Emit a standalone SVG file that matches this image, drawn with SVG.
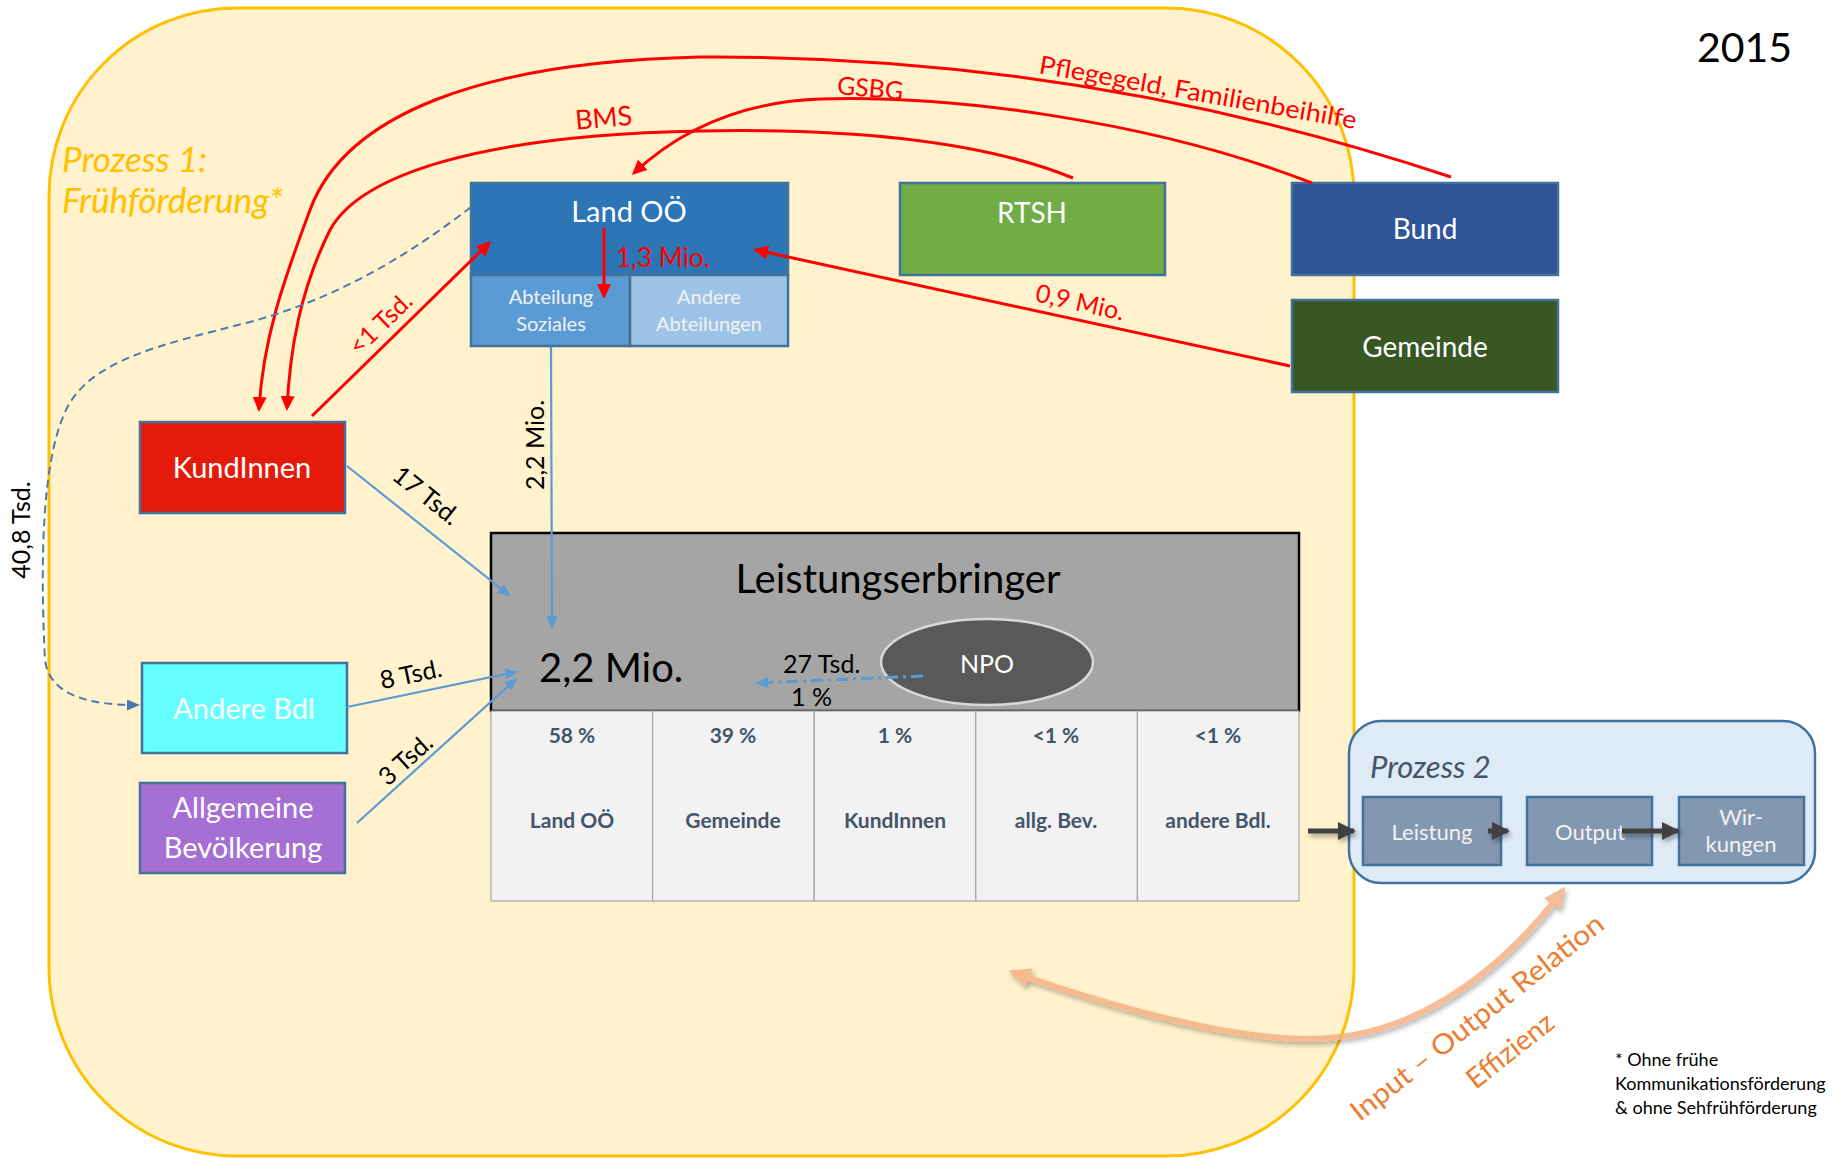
<svg xmlns="http://www.w3.org/2000/svg" width="1835" height="1159" viewBox="0 0 1835 1159">
<style>
text{font-family:Lato,"Liberation Sans",sans-serif}
.w{fill:#FFFFFF}
.red{fill:#FF0000}
.blk{fill:#000000}
.rl{fill:none;stroke:#FF0000;stroke-width:3}
.bl{fill:none;stroke:#5B9BD5;stroke-width:2.2}
.box{stroke:#41719C;stroke-width:2.5}
.tb{fill:#F2F2F2;stroke:#A6A6A6;stroke-width:1.2}
.pc{fill:#44546A;font-weight:bold;font-size:21px;text-anchor:middle}
.sb{fill:#8497B0;stroke:#41719C;stroke-width:2.5}
.da{fill:none;stroke:#404040;stroke-width:5}
</style>
<defs>
<marker id="mr" viewBox="0 0 15 14" refX="12" refY="7" markerWidth="15" markerHeight="14" markerUnits="userSpaceOnUse" orient="auto"><path d="M0,0 L15,7 L0,14 z" fill="#FF0000"/></marker>
<marker id="mb" viewBox="0 0 13 11" refX="11" refY="5.5" markerWidth="13" markerHeight="11" markerUnits="userSpaceOnUse" orient="auto"><path d="M0,0 L13,5.5 L0,11 z" fill="#5B9BD5"/></marker>
<marker id="md" viewBox="0 0 13 11" refX="11" refY="5.5" markerWidth="13" markerHeight="11" markerUnits="userSpaceOnUse" orient="auto"><path d="M0,0 L13,5.5 L0,11 z" fill="#4A7AAE"/></marker>
<marker id="mk" viewBox="0 0 18 18" refX="16" refY="9" markerWidth="18" markerHeight="18" markerUnits="userSpaceOnUse" orient="auto"><path d="M0,0 L18,9 L0,18 z" fill="#404040"/></marker>
<marker id="mo" viewBox="0 0 22 20" refX="18" refY="10" markerWidth="22" markerHeight="20" markerUnits="userSpaceOnUse" orient="auto-start-reverse"><path d="M0,0 L22,10 L0,20 z" fill="#F4B183"/></marker>
<filter id="sh" filterUnits="userSpaceOnUse" x="0" y="0" width="1835" height="1159"><feDropShadow dx="2" dy="3" stdDeviation="2.5" flood-color="#000" flood-opacity="0.35"/></filter>
</defs>

<g id="prozess1">
<rect x="49" y="8" width="1305" height="1148" rx="188" ry="188" fill="#FFF2CC" stroke="#FFC000" stroke-width="3"/>
<text x="62" y="172" font-size="35" font-style="italic" fill="#FFC000">Prozess 1:</text>
<text x="62" y="213" font-size="35" font-style="italic" fill="#FFC000">Frühförderung*</text>
</g>

<text id="year" x="1697" y="62" font-size="41" class="blk">2015</text>

<g id="land-ooe">
<rect x="471" y="183" width="317" height="92" fill="#2E75B6" class="box"/>
<rect x="471" y="275" width="159" height="71" fill="#5B9BD5" class="box"/>
<rect x="630" y="275" width="158" height="71" fill="#9DC3E6" class="box"/>
<text x="629" y="222" font-size="29" class="w" text-anchor="middle">Land OÖ</text>
<text x="551" y="304" font-size="20" fill="#F2F2F2" text-anchor="middle">Abteilung</text>
<text x="551" y="331" font-size="20" fill="#F2F2F2" text-anchor="middle">Soziales</text>
<text x="709" y="304" font-size="20" fill="#F2F2F2" text-anchor="middle">Andere</text>
<text x="709" y="331" font-size="20" fill="#F2F2F2" text-anchor="middle">Abteilungen</text>
</g>

<g id="rtsh">
<rect x="900" y="183" width="265" height="92" fill="#70AD47" class="box"/>
<text x="1032" y="223" font-size="28" class="w" text-anchor="middle">RTSH</text>
</g>

<g id="bund">
<rect x="1292" y="183" width="266" height="92" fill="#2F5597" class="box"/>
<text x="1425" y="239" font-size="28" class="w" text-anchor="middle">Bund</text>
</g>

<g id="gemeinde">
<rect x="1292" y="300" width="266" height="92" fill="#385723" class="box"/>
<text x="1425" y="357" font-size="28" class="w" text-anchor="middle">Gemeinde</text>
</g>

<g id="kundinnen">
<rect x="140" y="422" width="205" height="91" fill="#E41B0A" class="box"/>
<text x="242" y="478" font-size="29" class="w" text-anchor="middle">KundInnen</text>
</g>

<g id="andere-bdl">
<rect x="142" y="663" width="205" height="90" fill="#66FFFF" class="box"/>
<text x="244" y="719" font-size="29" class="w" text-anchor="middle">Andere Bdl</text>
</g>

<g id="allgemeine-bevoelkerung">
<rect x="140" y="783" width="205" height="90" fill="#A66FD3" class="box"/>
<text x="243" y="818" font-size="29" class="w" text-anchor="middle">Allgemeine</text>
<text x="243" y="858" font-size="29" class="w" text-anchor="middle">Bevölkerung</text>
</g>

<g id="leistungserbringer">
<rect x="491" y="533" width="808" height="178" fill="#A5A5A5" stroke="#000" stroke-width="2.5"/>
<text x="898" y="593" font-size="40" class="blk" text-anchor="middle">Leistungserbringer</text>
<text x="539" y="682" font-size="40" class="blk">2,2 Mio.</text>
<rect x="491" y="711" width="161.6" height="190" class="tb"/>
<rect x="652.6" y="711" width="161.6" height="190" class="tb"/>
<rect x="814.2" y="711" width="161.6" height="190" class="tb"/>
<rect x="975.8" y="711" width="161.6" height="190" class="tb"/>
<rect x="1137.4" y="711" width="161.6" height="190" class="tb"/>
<text x="572" y="743" class="pc">58 %</text>
<text x="733" y="743" class="pc">39 %</text>
<text x="895" y="743" class="pc">1 %</text>
<text x="1056" y="743" class="pc">&lt;1 %</text>
<text x="1218" y="743" class="pc">&lt;1 %</text>
<text x="572" y="828" class="pc">Land OÖ</text>
<text x="733" y="828" class="pc">Gemeinde</text>
<text x="895" y="828" class="pc">KundInnen</text>
<text x="1056" y="828" class="pc">allg. Bev.</text>
<text x="1218" y="828" class="pc">andere Bdl.</text>
</g>

<g id="npo">
<ellipse cx="987" cy="662" rx="106" ry="43" fill="#595959" stroke="#D9D9D9" stroke-width="2.5"/>
<text x="987" y="673" font-size="25" class="w" text-anchor="middle">NPO</text>
</g>

<g id="prozess2">
<rect x="1349" y="721" width="466" height="162" rx="32" ry="32" fill="#DEEBF7" stroke="#41719C" stroke-width="2.5"/>
<text x="1370" y="778" font-size="31" font-style="italic" fill="#44546A">Prozess 2</text>
<rect x="1363" y="797" width="138" height="68" class="sb"/>
<rect x="1527" y="797" width="125" height="68" class="sb"/>
<rect x="1679" y="797" width="125" height="68" class="sb"/>
<text x="1432" y="840" font-size="22" fill="#F2F2F2" text-anchor="middle">Leistung</text>
<text x="1590" y="840" font-size="22" fill="#F2F2F2" text-anchor="middle">Output</text>
<text x="1741" y="825" font-size="22" fill="#F2F2F2" text-anchor="middle">Wir-</text>
<text x="1741" y="852" font-size="22" fill="#F2F2F2" text-anchor="middle">kungen</text>
</g>

<g id="connectors">
<path class="rl" d="M1451,177 C1250,110 1000,55 700,57 C480,62 345,115 310,210 C283,282 263,340 259,409" marker-end="url(#mr)"/>
<path class="rl" d="M1073,178 C980,140 850,128 700,131 C480,135 360,175 330,230 C300,290 290,350 287,408" marker-end="url(#mr)"/>
<path class="rl" d="M1312,183 C1150,120 950,95 820,99 C740,102 680,130 634,173" marker-end="url(#mr)"/>
<path class="rl" d="M312,416 L489,243" marker-end="url(#mr)"/>
<path class="rl" d="M1290,366 L756,250" marker-end="url(#mr)"/>
<path class="rl" d="M604,228 L604,296" marker-end="url(#mr)"/>

<path class="bl" d="M347,466 L509,595" marker-end="url(#mb)"/>
<path class="bl" d="M347,707 L516,672" marker-end="url(#mb)"/>
<path class="bl" d="M357,823 L516,679" marker-end="url(#mb)"/>
<path class="bl" d="M551,347 L552,627" marker-end="url(#mb)"/>
<path fill="none" stroke="#5B9BD5" stroke-width="3" stroke-dasharray="12,5,3,5" d="M923,676 L757,683" marker-end="url(#mb)"/>
<path fill="none" stroke="#4A7AAE" stroke-width="2" stroke-dasharray="8,5" d="M471,207 C400,262 330,300 250,322 C160,345 90,360 66,410 C42,460 40,560 45,660 C50,700 100,705 138,705" marker-end="url(#md)"/>

<path class="da" d="M1308,831 L1354,831" marker-end="url(#mk)" filter="url(#sh)"/>
<path class="da" d="M1488,831 L1508,831" marker-end="url(#mk)" filter="url(#sh)"/>
<path class="da" d="M1622,831 L1678,831" marker-end="url(#mk)" filter="url(#sh)"/>

<path fill="none" stroke="#F4B183" stroke-width="6" opacity="0.85" d="M1012,972 C1120,1010 1250,1045 1330,1038 C1430,1030 1510,960 1563,890" marker-start="url(#mo)" marker-end="url(#mo)" filter="url(#sh)"/>

<text x="604" y="128" font-size="27" class="red" text-anchor="middle" transform="rotate(-5 595 123)">BMS</text>
<text x="870" y="97" font-size="25" class="red" text-anchor="middle" transform="rotate(5 870 90)">GSBG</text>
<text x="1038" y="73" font-size="25" class="red" transform="rotate(10 1038 73)" textLength="322" lengthAdjust="spacingAndGlyphs">Pflegegeld, Familienbeihilfe</text>
<text x="616" y="267" font-size="26" class="red">1,3 Mio.</text>
<text x="1080" y="311" font-size="25" class="red" text-anchor="middle" transform="rotate(12.5 1080 303)">0,9 Mio.</text>
<text x="381" y="332" font-size="25" class="red" text-anchor="middle" transform="rotate(-44 381 324)">&lt;1 Tsd.</text>
<text x="426" y="504" font-size="25" class="blk" text-anchor="middle" transform="rotate(38.6 426 496)">17 Tsd.</text>
<text x="411" y="683" font-size="25" class="blk" text-anchor="middle" transform="rotate(-12 411 675)">8 Tsd.</text>
<text x="406" y="768" font-size="25" class="blk" text-anchor="middle" transform="rotate(-42 406 760)">3 Tsd.</text>
<text x="22" y="538" font-size="25" class="blk" text-anchor="middle" transform="rotate(-90 22 530)">40,8 Tsd.</text>
<text x="536" y="453" font-size="25" class="blk" text-anchor="middle" transform="rotate(-90 536 445)">2,2 Mio.</text>
<text x="783" y="673" font-size="25" class="blk">27 Tsd.</text>
<text x="791" y="706" font-size="25" class="blk">1 %</text>
</g>

<g id="effizienz">
<text x="1483" y="1025" font-size="28" fill="#ED7D31" text-anchor="middle" transform="rotate(-38.3 1483 1025)" textLength="314" lengthAdjust="spacingAndGlyphs">Input – Output Relation</text>
<text x="1516" y="1058" font-size="28" fill="#ED7D31" text-anchor="middle" transform="rotate(-38.3 1516 1058)">Effizienz</text>
</g>

<g id="footnote">
<text x="1615" y="1066" font-size="18" class="blk">* Ohne frühe</text>
<text x="1615" y="1090" font-size="18" class="blk">Kommunikationsförderung</text>
<text x="1615" y="1114" font-size="18" class="blk">&amp; ohne Sehfrühförderung</text>
</g>
</svg>
